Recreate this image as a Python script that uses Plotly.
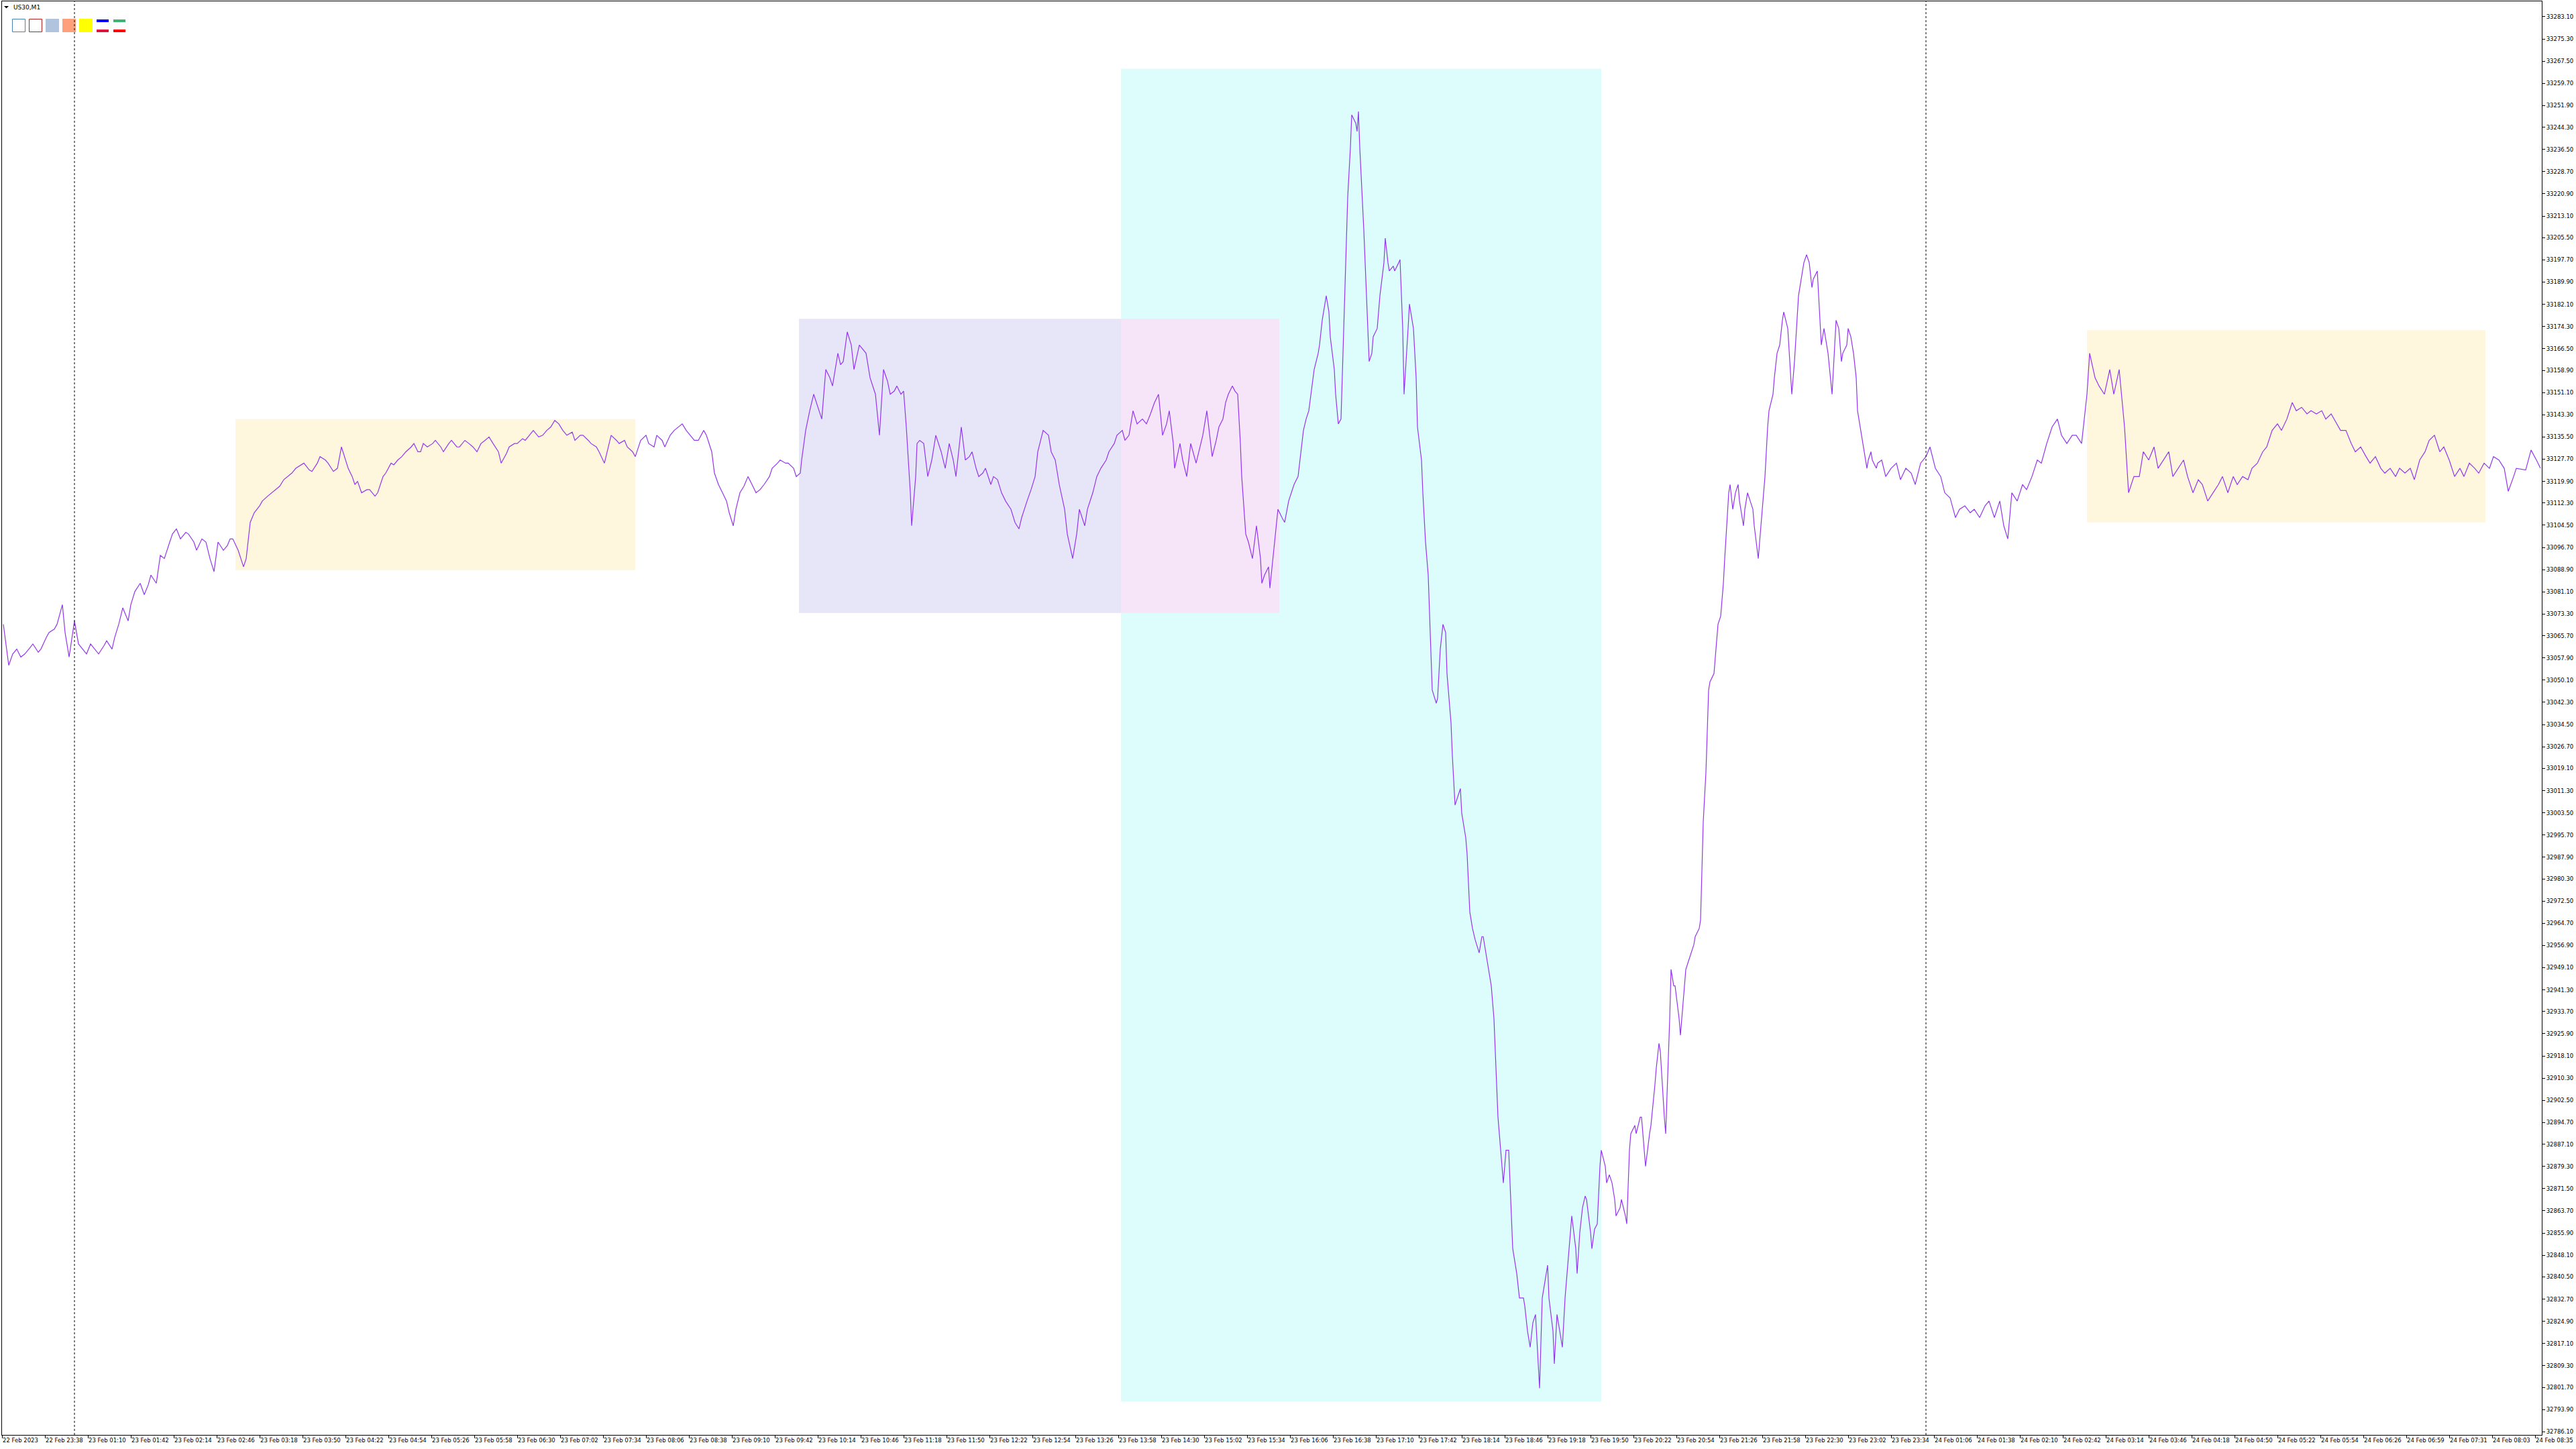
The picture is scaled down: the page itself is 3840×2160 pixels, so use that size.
import plotly.graph_objects as go

# ---------------- data ----------------
X_TICK_LABELS = [
    "22 Feb 2023", "22 Feb 23:38", "23 Feb 01:10", "23 Feb 01:42", "23 Feb 02:14", "23 Feb 02:46",
    "23 Feb 03:18", "23 Feb 03:50", "23 Feb 04:22", "23 Feb 04:54", "23 Feb 05:26", "23 Feb 05:58",
    "23 Feb 06:30", "23 Feb 07:02", "23 Feb 07:34", "23 Feb 08:06", "23 Feb 08:38", "23 Feb 09:10",
    "23 Feb 09:42", "23 Feb 10:14", "23 Feb 10:46", "23 Feb 11:18", "23 Feb 11:50", "23 Feb 12:22",
    "23 Feb 12:54", "23 Feb 13:26", "23 Feb 13:58", "23 Feb 14:30", "23 Feb 15:02", "23 Feb 15:34",
    "23 Feb 16:06", "23 Feb 16:38", "23 Feb 17:10", "23 Feb 17:42", "23 Feb 18:14", "23 Feb 18:46",
    "23 Feb 19:18", "23 Feb 19:50", "23 Feb 20:22", "23 Feb 20:54", "23 Feb 21:26", "23 Feb 21:58",
    "23 Feb 22:30", "23 Feb 23:02", "23 Feb 23:34", "24 Feb 01:06", "24 Feb 01:38", "24 Feb 02:10",
    "24 Feb 02:42", "24 Feb 03:14", "24 Feb 03:46", "24 Feb 04:18", "24 Feb 04:50", "24 Feb 05:22",
    "24 Feb 05:54", "24 Feb 06:26", "24 Feb 06:59", "24 Feb 07:31", "24 Feb 08:03", "24 Feb 08:35",
]
BARS_PER_LABEL = 32
TOTAL_BARS = 1893

Y_TICK_VALUES = [
    33283.10, 33275.30, 33267.50, 33259.70, 33251.90, 33244.30, 33236.50, 33228.70, 33220.90, 33213.10,
    33205.50, 33197.70, 33189.90, 33182.10, 33174.30, 33166.50, 33158.90, 33151.10, 33143.30, 33135.50,
    33127.70, 33119.90, 33112.30, 33104.50, 33096.70, 33088.90, 33081.10, 33073.30, 33065.70, 33057.90,
    33050.10, 33042.30, 33034.50, 33026.70, 33019.10, 33011.30, 33003.50, 32995.70, 32987.90, 32980.30,
    32972.50, 32964.70, 32956.90, 32949.10, 32941.30, 32933.70, 32925.90, 32918.10, 32910.30, 32902.50,
    32894.70, 32887.10, 32879.30, 32871.50, 32863.70, 32855.90, 32848.10, 32840.50, 32832.70, 32824.90,
    32817.10, 32809.30, 32801.70, 32793.90, 32786.10,
]
PRICE_MIN, PRICE_MAX = 32785.0, 33288.5

BAR_A = [1, 5, 8, 11, 14, 17, 21, 23, 27, 29,
         33, 35, 39, 41, 45, 47, 50, 54, 57, 60,
         63, 66, 70, 72, 76, 78, 82, 84, 87, 90,
         94, 96, 99, 103, 106, 109, 111, 115, 118, 121,
         125, 127, 130, 133, 137, 139, 143, 145, 149, 152,
         155, 158, 161, 165, 168, 170, 172, 176, 180, 182]
PRICE_A = [33069.7, 33055.3, 33059.3, 33061.0, 33058.2, 33059.3, 33061.6, 33062.8, 33059.9, 33061.0,
           33065.1, 33066.8, 33068.0, 33069.7, 33076.6, 33066.8, 33058.2, 33070.9, 33062.8, 33061.0,
           33059.3, 33062.8, 33060.5, 33059.3, 33062.2, 33063.9, 33061.0, 33065.1, 33069.7, 33075.5,
           33070.9, 33076.6, 33081.2, 33084.1, 33080.1, 33083.6, 33087.0, 33084.1, 33093.9, 33092.8,
           33098.6, 33101.4, 33103.2, 33099.7, 33102.0, 33101.4, 33098.6, 33095.7, 33099.7, 33098.6,
           33092.8, 33088.2, 33098.6, 33095.7, 33097.4, 33099.7, 33099.7, 33095.7, 33089.9, 33092.8]

BAR_B = [185, 188, 192, 194, 198, 201, 204, 207, 210, 213,
         216, 219, 223, 225, 229, 231, 235, 237, 241, 243,
         247, 250, 253, 256, 258, 261, 263, 265, 268, 272,
         274, 278, 280, 284, 286, 290, 292, 295, 298, 301,
         305, 307, 310, 312, 314, 317, 321, 323, 327, 329,
         333, 335, 339, 341, 345, 348, 351, 354, 357, 360,
         363, 366, 370, 372, 376, 378, 382, 384, 388, 390,
         394, 396, 400, 403, 406, 409, 412, 415, 418, 421,
         425, 427, 431, 433, 437, 439, 443, 445, 449, 452,
         454, 458, 460, 464, 466, 470, 472, 476, 480, 482,
         486, 488, 492, 494, 498, 501, 504, 507, 510, 513,
         516, 519, 523, 525, 529, 531, 534, 537, 540, 542,
         545, 547, 550, 553, 556, 559, 562, 565, 568, 572,
         574, 578, 580, 584, 586, 590, 592, 595, 596]
PRICE_B = [33105.5, 33108.9, 33111.3, 33113.0, 33114.7, 33115.9, 33117.0, 33118.2, 33120.5, 33121.6,
           33122.8, 33124.5, 33125.7, 33126.3, 33123.9, 33123.4, 33126.3, 33128.6, 33127.4, 33126.3,
           33123.4, 33124.5, 33132.0, 33127.4, 33124.5, 33121.6, 33118.8, 33119.9, 33115.9, 33117.0,
           33117.0, 33114.7, 33115.9, 33121.6, 33122.8, 33126.3, 33125.7, 33127.4, 33128.6, 33130.3,
           33132.0, 33133.2, 33130.3, 33130.3, 33133.2, 33132.0, 33133.2, 33134.3, 33132.0, 33130.3,
           33133.2, 33134.3, 33132.0, 33132.0, 33134.3, 33133.2, 33132.0, 33130.3, 33133.2, 33134.3,
           33135.5, 33133.2, 33130.3, 33126.3, 33129.7, 33132.0, 33133.2, 33133.2, 33134.9, 33134.3,
           33136.6, 33137.8, 33135.5, 33136.1, 33137.8, 33139.0, 33141.3, 33140.1, 33137.8, 33136.1,
           33137.2, 33134.3, 33136.1, 33136.1, 33134.3, 33133.2, 33132.0, 33130.3, 33126.3, 33132.0,
           33136.1, 33134.3, 33133.2, 33134.3, 33132.0, 33130.3, 33128.6, 33134.3, 33136.1, 33133.2,
           33132.0, 33136.1, 33134.3, 33132.0, 33136.1, 33137.8, 33139.0, 33140.1, 33137.8, 33136.1,
           33134.3, 33134.3, 33137.8, 33136.1, 33130.3, 33122.8, 33118.8, 33115.9, 33113.0, 33108.9,
           33104.3, 33110.1, 33115.9, 33118.2, 33121.6, 33118.8, 33115.9, 33117.0, 33118.8, 33121.6,
           33124.5, 33126.3, 33127.4, 33126.3, 33126.3, 33124.5, 33121.6, 33122.8, 33127.4]

BAR_C = [599, 602, 605, 608, 611, 613, 614, 617, 619, 623,
         625, 627, 630, 633, 635, 639, 641, 644, 647, 651,
         654, 657, 660, 662, 665, 667, 670, 672, 674, 677,
         678, 681, 682, 684, 687, 690, 693, 696, 700, 703,
         706, 709, 711, 715, 718, 721, 723, 726, 728, 731,
         733, 737, 739, 742, 745, 748, 752, 755, 758, 760,
         764, 767, 770, 772, 776, 780, 782, 785, 788, 792,
         794, 798, 801, 803, 807, 809, 813, 816, 819, 823,
         825, 829, 831, 835, 837, 840, 843, 846, 850, 853,
         856, 859, 862, 865, 868, 870, 873, 874, 878, 880,
         883, 886, 890, 892, 895, 898, 902, 905, 907, 910,
         912, 914, 917, 919, 921, 923, 924, 927, 929, 932,
         935, 938, 939, 941, 944, 945, 948, 951, 954, 956,
         959, 961, 963, 966]
PRICE_C = [33137.8, 33144.7, 33150.5, 33145.9, 33141.8, 33153.4, 33159.2, 33156.3, 33153.4, 33164.9,
           33160.9, 33162.0, 33172.4, 33167.8, 33159.2, 33167.8, 33166.7, 33164.9, 33156.3, 33150.5,
           33136.1, 33159.2, 33155.1, 33150.5, 33151.6, 33153.4, 33150.5, 33151.6, 33139.0, 33115.9,
           33104.3, 33121.6, 33133.2, 33134.3, 33133.2, 33121.6, 33127.4, 33136.1, 33130.3, 33124.5,
           33133.2, 33127.4, 33121.6, 33139.0, 33127.4, 33128.6, 33130.3, 33124.5, 33121.6, 33122.8,
           33124.5, 33118.8, 33121.6, 33120.5, 33115.9, 33113.0, 33110.1, 33105.5, 33103.2, 33107.2,
           33113.0, 33117.0, 33121.6, 33130.3, 33137.8, 33136.1, 33130.3, 33127.4, 33118.8, 33110.1,
           33101.4, 33092.8, 33101.4, 33110.1, 33104.3, 33110.1, 33115.9, 33121.6, 33124.5, 33127.4,
           33130.3, 33133.2, 33136.1, 33137.8, 33134.3, 33136.1, 33144.7, 33140.1, 33141.8, 33140.1,
           33143.6, 33147.6, 33150.5, 33136.1, 33140.1, 33144.7, 33133.2, 33124.5, 33133.2, 33127.4,
           33121.6, 33133.2, 33126.3, 33130.3, 33136.1, 33144.7, 33128.6, 33134.3, 33139.0, 33141.8,
           33147.6, 33150.5, 33153.4, 33151.6, 33150.5, 33133.2, 33121.6, 33101.4, 33098.6, 33092.8,
           33104.3, 33092.8, 33084.1, 33087.0, 33089.9, 33082.4, 33095.7, 33110.1, 33107.2, 33105.5,
           33113.0, 33115.9, 33118.8, 33121.6]

BAR_D = [970, 972, 974, 978, 981, 982, 984, 987, 989, 990,
         993, 994, 996, 998, 1000, 1003, 1005, 1006, 1009, 1010,
         1011, 1012, 1015, 1017, 1019, 1021, 1022, 1025, 1027, 1030,
         1031, 1033, 1034, 1037, 1038, 1041, 1042, 1044, 1045, 1048,
         1049, 1052, 1054, 1055, 1058, 1059, 1061, 1063, 1065, 1066,
         1069, 1070, 1072, 1074, 1076, 1077, 1080, 1081, 1083, 1085,
         1087, 1088, 1091, 1092, 1094, 1096, 1098, 1101, 1103, 1104,
         1107, 1108, 1110, 1112, 1114, 1115, 1118, 1119, 1121, 1123,
         1125, 1126, 1129, 1131, 1134, 1135, 1137, 1139, 1141, 1143,
         1145, 1146, 1148, 1150, 1152, 1153, 1156, 1157, 1159, 1162,
         1163, 1165, 1167, 1169, 1170, 1173, 1174, 1176, 1178, 1180,
         1181, 1184, 1185, 1187, 1189, 1191, 1192, 1195, 1196, 1198,
         1200, 1202, 1203, 1206, 1207, 1210, 1211, 1213, 1214, 1217,
         1218, 1221, 1222, 1224, 1225, 1228, 1229, 1232, 1233, 1235,
         1236, 1239, 1240, 1243, 1244, 1246, 1247, 1250, 1251, 1254,
         1255, 1257, 1259, 1261, 1262, 1265, 1266, 1268, 1270, 1272,
         1273, 1276, 1277, 1279, 1281, 1283, 1284, 1287, 1288, 1290,
         1292, 1294, 1295, 1298, 1299, 1301, 1303, 1305, 1306, 1309,
         1310, 1312, 1314, 1316, 1317, 1320, 1321, 1323, 1325, 1327,
         1328, 1331, 1332, 1334, 1336, 1338, 1339, 1342, 1343, 1345,
         1347, 1349, 1350, 1353, 1354, 1356, 1358, 1360, 1361, 1364,
         1365, 1367, 1369, 1371, 1372, 1375, 1376, 1378, 1380, 1382,
         1383, 1386, 1387, 1390, 1391, 1393, 1394, 1397, 1398, 1401]
PRICE_D = [33137.8, 33141.8, 33144.7, 33159.2, 33164.9, 33167.8, 33176.5, 33185.1, 33179.4, 33170.7,
           33159.2, 33150.5, 33140.1, 33141.8, 33173.6, 33219.7, 33237.1, 33248.6, 33245.7, 33242.8,
           33249.8, 33237.1, 33208.2, 33185.1, 33162.0, 33164.9, 33170.7, 33173.6, 33185.1, 33196.7,
           33205.3, 33196.7, 33193.8, 33195.5, 33193.8, 33196.7, 33197.8, 33173.6, 33150.5, 33173.6,
           33182.2, 33173.6, 33156.3, 33139.0, 33127.4, 33115.9, 33098.6, 33087.0, 33058.2, 33046.6,
           33042.0, 33043.7, 33061.0, 33069.7, 33066.8, 33052.4, 33035.1, 33023.5, 33006.2, 33009.1,
           33012.0, 33003.3, 32994.7, 32988.9, 32968.7, 32962.9, 32958.9, 32954.3, 32960.0, 32960.0,
           32951.4, 32948.5, 32942.7, 32931.2, 32908.1, 32896.6, 32879.3, 32873.5, 32885.0, 32885.0,
           32861.9, 32850.4, 32841.7, 32833.1, 32833.1, 32830.2, 32821.5, 32815.8, 32824.4, 32827.3,
           32810.0, 32801.4, 32833.1, 32838.9, 32844.6, 32833.1, 32821.5, 32810.0, 32827.3, 32818.7,
           32815.8, 32833.1, 32844.6, 32856.2, 32861.9, 32850.4, 32841.7, 32856.2, 32864.8, 32868.9,
           32867.7, 32856.2, 32850.4, 32857.3, 32859.1, 32879.3, 32885.0, 32879.3, 32873.5, 32876.4,
           32873.5, 32867.7, 32861.9, 32864.8, 32867.7, 32861.9, 32859.1, 32885.0, 32890.8, 32893.7,
           32890.8, 32896.6, 32896.6, 32885.0, 32879.3, 32890.8, 32893.7, 32908.1, 32913.9, 32922.5,
           32919.7, 32896.6, 32890.8, 32931.2, 32948.5, 32942.7, 32942.7, 32931.2, 32925.4, 32942.7,
           32948.5, 32951.4, 32954.3, 32957.2, 32960.0, 32962.9, 32965.8, 33000.4, 33017.8, 33046.6,
           33049.5, 33052.4, 33058.2, 33069.7, 33072.6, 33084.1, 33092.8, 33115.9, 33118.8, 33110.1,
           33115.9, 33118.8, 33113.0, 33104.3, 33110.1, 33115.9, 33113.0, 33110.1, 33104.3, 33092.8,
           33098.6, 33110.1, 33121.6, 33139.0, 33144.7, 33150.5, 33156.3, 33164.9, 33167.8, 33176.5,
           33179.4, 33173.6, 33164.9, 33150.5, 33162.0, 33179.4, 33185.1, 33193.8, 33196.7, 33199.5,
           33196.7, 33188.0, 33190.9, 33193.8, 33185.1, 33167.8, 33173.6, 33167.8, 33164.9, 33150.5,
           33159.2, 33176.5, 33173.6, 33162.0, 33164.9, 33167.8, 33173.6, 33170.7, 33164.9, 33156.3,
           33144.7, 33136.1, 33133.2, 33124.5, 33127.4, 33130.3, 33127.4, 33124.5, 33126.3, 33127.4]

BAR_E = [1404, 1408, 1412, 1415, 1419, 1423, 1426, 1430, 1434, 1437,
         1441, 1445, 1448, 1452, 1456, 1459, 1463, 1467, 1470, 1474,
         1478, 1481, 1485, 1489, 1492, 1495, 1498, 1502, 1506, 1509,
         1513, 1517, 1520, 1524, 1528, 1532, 1535, 1539, 1543, 1546,
         1550, 1554, 1556, 1560, 1563, 1567, 1571, 1574, 1578, 1582,
         1585, 1589, 1593, 1596, 1600, 1604, 1607, 1611, 1615, 1618,
         1622, 1626, 1629, 1633, 1637, 1640, 1644, 1648, 1652, 1655,
         1659, 1663, 1666, 1670, 1674, 1677, 1681, 1685, 1688, 1692,
         1696, 1699, 1703, 1707, 1710, 1714, 1718, 1721, 1725, 1729,
         1732, 1736, 1740, 1743, 1747, 1751, 1754, 1758, 1762, 1765,
         1769, 1773, 1776, 1780, 1784, 1787, 1791, 1795, 1798, 1802,
         1806, 1809, 1813, 1817, 1820, 1824, 1828, 1832, 1835, 1839,
         1843, 1846, 1850, 1854, 1857, 1861, 1865, 1868, 1872, 1874,
         1881, 1885, 1889, 1892]
PRICE_E = [33121.6, 33124.5, 33126.3, 33120.5, 33124.5, 33122.8, 33118.8, 33126.3, 33128.6, 33132.0,
           33124.5, 33121.6, 33115.9, 33114.1, 33107.2, 33110.1, 33111.3, 33108.9, 33110.1, 33107.2,
           33111.3, 33113.0, 33107.2, 33113.0, 33104.3, 33099.7, 33115.9, 33113.0, 33118.8, 33117.0,
           33121.6, 33127.4, 33126.3, 33133.2, 33139.0, 33141.8, 33136.1, 33133.2, 33136.1, 33136.1,
           33133.2, 33150.5, 33164.9, 33156.3, 33153.4, 33150.5, 33159.2, 33150.5, 33159.2, 33139.0,
           33115.9, 33121.6, 33121.6, 33130.3, 33127.4, 33132.0, 33124.5, 33127.4, 33130.3, 33121.6,
           33124.5, 33127.4, 33121.6, 33115.9, 33120.5, 33118.8, 33113.0, 33115.9, 33118.8, 33121.6,
           33115.9, 33121.6, 33118.8, 33121.6, 33120.5, 33124.5, 33126.3, 33130.3, 33132.0, 33137.8,
           33140.1, 33137.8, 33141.8, 33147.6, 33144.7, 33145.9, 33143.6, 33144.7, 33143.6, 33144.7,
           33141.8, 33143.6, 33140.1, 33137.8, 33137.8, 33133.2, 33130.3, 33132.0, 33128.6, 33126.3,
           33128.6, 33124.5, 33122.8, 33124.5, 33121.6, 33124.5, 33122.8, 33124.5, 33120.5, 33127.4,
           33130.3, 33134.3, 33136.1, 33130.3, 33132.0, 33127.4, 33121.6, 33124.5, 33121.6, 33126.3,
           33124.5, 33122.8, 33126.3, 33124.5, 33128.6, 33127.4, 33124.5, 33116.4, 33121.6, 33124.5,
           33123.9, 33130.9, 33127.4, 33124.5]

# Rectangle objects drawn on the chart (bar index range, price range, fill colour)
RECT_BAR_START = [174, 594, 834, 834, 1554]
RECT_BAR_END = [472, 834, 1192, 952, 1851]
RECT_PRICE_LOW = [33088.7, 33073.7, 32796.7, 33073.7, 33105.5]
RECT_PRICE_HIGH = [33141.8, 33177.0, 33264.8, 33177.0, 33173.0]
RECT_COLORS = ["#FFF6DE", "#E6E6F8", "#DDFDFD", "#F6E4F8", "#FFF6DE"]

# Day separators (bar index of 00:00)
DAY_SEPARATOR_BARS = [54, 1434]

LINE_COLOR = "#9436EE"

# ---------------- figure ----------------
bars = BAR_A + BAR_B + BAR_C + BAR_D + BAR_E
prices = PRICE_A + PRICE_B + PRICE_C + PRICE_D + PRICE_E
assert len(bars) == len(prices), (len(bars), len(prices))

W, H = 3840, 2160
ML, MR, MT, MB = 3, 51, 2, 21
PW, PH = W - ML - MR, H - MT - MB


def paper(px, py):
    return (px - ML) / PW, 1 - (py - MT) / PH


fig = go.Figure()

shapes = []
for b0, b1, lo, hi, c in zip(RECT_BAR_START, RECT_BAR_END, RECT_PRICE_LOW, RECT_PRICE_HIGH, RECT_COLORS):
    shapes.append(dict(type="rect", xref="x", yref="y", x0=b0, x1=b1, y0=lo, y1=hi,
                       fillcolor=c, line=dict(width=0), layer="below"))


# header decorations (top-left of MT4 window)
def box(x0, y0, x1, y1, fill=None, outline=None):
    a, b = paper(x0, y0)
    c, d = paper(x1, y1)
    return dict(type="rect", xref="paper", yref="paper", x0=a, y0=d, x1=c, y1=b,
                fillcolor=fill if fill else "rgba(0,0,0,0)",
                line=dict(width=1 if outline else 0, color=outline if outline else "rgba(0,0,0,0)"),
                layer="above")


shapes += [
    box(18.5, 28.5, 37.5, 47.5, outline="#4682B4"),
    box(43.5, 28.5, 62.5, 47.5, outline="#B22222"),
    box(68, 28, 88, 48, fill="#B0C4DE"),
    box(93, 28, 113, 48, fill="#FFA07A"),
    box(118, 28, 138, 48, fill="#FFFF00"),
    box(144, 29, 162, 33, fill="#0000FF"),
    box(144, 44, 162, 48, fill="#DC143C"),
    box(169, 29, 187, 33, fill="#3CB371"),
    box(169, 44, 187, 48, fill="#FF0000"),
]
p1, p2, p3 = paper(6, 9), paper(13, 9), paper(9.5, 12.5)
shapes.append(dict(type="path", xref="paper", yref="paper",
                   path=f"M {p1[0]},{p1[1]} L {p2[0]},{p2[1]} L {p3[0]},{p3[1]} Z",
                   fillcolor="black", line=dict(width=0), layer="above"))

for b in DAY_SEPARATOR_BARS:
    shapes.append(dict(type="line", xref="x", yref="paper", x0=b, x1=b, y0=0, y1=1,
                       line=dict(color="black", width=1, dash="3px,3px"), layer="above"))

fig.add_trace(go.Scatter(x=bars, y=prices, mode="lines",
                         line=dict(color=LINE_COLOR, width=1.2), hoverinfo="skip",
                         showlegend=False))

tx, ty = paper(18, 11)
fig.add_annotation(xref="paper", yref="paper", x=tx, y=ty, text="US30,M1", showarrow=False,
                   xanchor="left", yanchor="middle",
                   font=dict(family="DejaVu Sans", size=9, color="black"))

FONT = dict(family="DejaVu Sans", size=8.5, color="black")

fig.update_layout(
    width=W, height=H,
    margin=dict(l=ML, r=MR, t=MT, b=MB, pad=0),
    paper_bgcolor="white", plot_bgcolor="white",
    shapes=shapes,
    showlegend=False,
    xaxis=dict(
        range=[0, TOTAL_BARS],
        tickmode="array",
        tickvals=[i * BARS_PER_LABEL for i in range(len(X_TICK_LABELS))],
        ticktext=X_TICK_LABELS,
        tickangle=0,
        ticklabelposition="outside right",
        ticks="outside", ticklen=4, tickwidth=1, tickcolor="black",
        showline=True, linecolor="black", linewidth=1, mirror=True,
        showgrid=False, zeroline=False, automargin=False,
        tickfont=FONT,
    ),
    yaxis=dict(
        range=[PRICE_MIN, PRICE_MAX],
        side="right",
        tickmode="array",
        tickvals=Y_TICK_VALUES,
        ticktext=[f"{v:.2f}" for v in Y_TICK_VALUES],
        ticks="outside", ticklen=4, tickwidth=1, tickcolor="black",
        showline=True, linecolor="black", linewidth=1, mirror=True,
        showgrid=False, zeroline=False, automargin=False,
        tickfont=FONT,
    ),
)

fig.write_html(
    "out.html",
    config={"displayModeBar": False},
    post_script="document.body.style.margin='0';document.body.style.overflow='hidden';",
)
